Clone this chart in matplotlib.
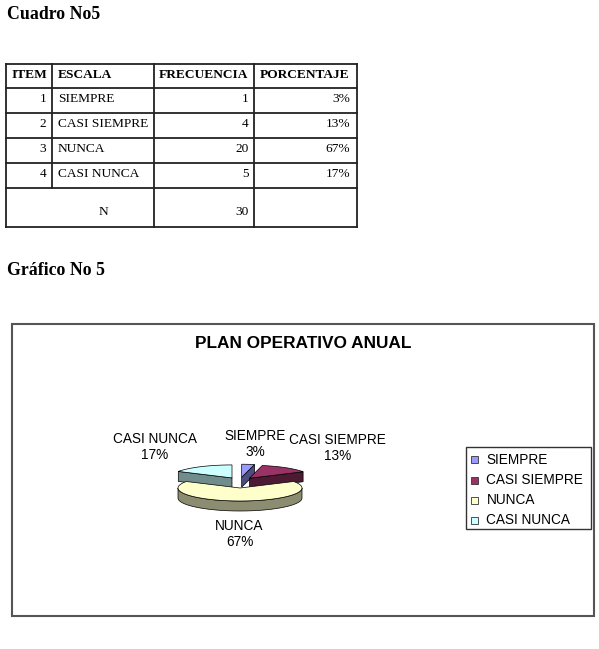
import numpy as np
import matplotlib
matplotlib.use("Agg")
import matplotlib.pyplot as plt
from matplotlib.patches import Polygon, Rectangle

# ---------------- data ----------------
items = ["1", "2", "3", "4"]
escala = ["SIEMPRE", "CASI SIEMPRE", "NUNCA", "CASI NUNCA"]
frecuencia = [1, 4, 20, 5]
porcentaje = ["3%", "13%", "67%", "17%"]
total_n = 30
headers = ["ITEM", "ESCALA", "FRECUENCIA", "PORCENTAJE"]
chart_title = "PLAN OPERATIVO ANUAL"
face_colors = ["#9999FF", "#993366", "#FFFFCC", "#CCFFFF"]
side_colors = ["#4D4D80", "#4D1A33", "#8C8C70", "#708C8C"]

SERIF = "Liberation Serif"
SANS = "Liberation Sans"

fig = plt.figure(figsize=(5.99, 6.49), dpi=100)
ax = fig.add_axes([0, 0, 1, 1])
ax.set_xlim(0, 599)
ax.set_ylim(649, 0)
ax.axis("off")

# ---------------- headings ----------------
ax.text(7, 19, "Cuadro No5", family=SERIF, fontweight="bold", fontsize=12.8,
        ha="left", va="baseline")
ax.text(7, 275, "Gráfico No 5", family=SERIF, fontweight="bold", fontsize=12.8,
        ha="left", va="baseline")

# ---------------- table ----------------
col_x = [6, 52, 154, 254, 357]
row_y = [64, 88.3, 113.3, 137.7, 162.7, 187.7, 227.3]
lc = "#222222"
lw = 1.3
for y in row_y:
    ax.plot([col_x[0], col_x[-1]], [y, y], color=lc, lw=lw, solid_capstyle="projecting")
for j, x in enumerate(col_x):
    if j == 1:
        ax.plot([x, x], [row_y[0], row_y[-2]], color=lc, lw=lw)
    else:
        ax.plot([x, x], [row_y[0], row_y[-1]], color=lc, lw=lw)

fs_t = 9.6
ax.text(12, 78.3, headers[0], family=SERIF, fontweight="bold", fontsize=fs_t, va="baseline")
ax.text(57.7, 78.3, headers[1], family=SERIF, fontweight="bold", fontsize=fs_t, va="baseline")
ax.text(159, 78.3, headers[2], family=SERIF, fontweight="bold", fontsize=fs_t, va="baseline")
ax.text(260, 78.3, headers[3], family=SERIF, fontweight="bold", fontsize=fs_t, va="baseline")
for i in range(4):
    yb = row_y[i + 1] + 14
    ax.text(46.5, yb, items[i], family=SERIF, fontsize=fs_t, ha="right", va="baseline")
    ax.text(57.7, yb, escala[i], family=SERIF, fontsize=fs_t, ha="left", va="baseline")
    ax.text(248.5, yb, str(frecuencia[i]), family=SERIF, fontsize=fs_t, ha="right", va="baseline")
    ax.text(350.5, yb, porcentaje[i], family=SERIF, fontsize=fs_t, ha="right", va="baseline")
ax.text(103.3, 215, "N", family=SERIF, fontsize=fs_t, ha="center", va="baseline")
ax.text(248.5, 215, str(total_n), family=SERIF, fontsize=fs_t, ha="right", va="baseline")

# ---------------- chart frame ----------------
ax.add_patch(Rectangle((12, 324), 594 - 12, 616 - 324, fill=False, ec="#555555", lw=1.5))
ax.text(303, 344, chart_title, family=SANS, fontweight="bold", fontsize=12.4,
        ha="center", va="center")

# ---------------- 3D pie ----------------
cx, cy = 240, 482.6
rx, ry = 62, 13
depth = 10
ex, ey = 16, 5.4   # explosion offsets (horizontal / vertical projection)

vals = np.array(frecuencia, dtype=float)
fr = vals / vals.sum()
bounds = np.concatenate([[0], np.cumsum(fr) * 360])


def pt(theta, ox, oy, h=0.0):
    t = np.radians(theta)
    return (cx + ox + rx * np.sin(t), cy + oy - ry * np.cos(t) + h)


def arc(a0, a1, ox, oy, h=0.0):
    n = max(int(abs(a1 - a0) / 2) + 2, 3)
    th = np.linspace(a0, a1, n)
    return [pt(t, ox, oy, h) for t in th]


slices = []
for i in range(len(vals)):
    a0, a1 = bounds[i], bounds[i + 1]
    mid = np.radians((a0 + a1) / 2)
    ox = ex * np.sin(mid)
    oy = -ey * np.cos(mid)
    slices.append((i, a0, a1, ox, oy))

order = sorted(slices, key=lambda s: s[4])
z = 5
for (i, a0, a1, ox, oy) in order:
    ec = "black"
    elw = 0.5
    c = (cx + ox, cy + oy)
    cb = (cx + ox, cy + oy + depth)
    lo, hi = max(a0, 90), min(a1, 270)
    if hi > lo:
        top = arc(lo, hi, ox, oy)
        bot = arc(hi, lo, ox, oy, depth)
        ax.add_patch(Polygon(top + bot, closed=True, fc=side_colors[i], ec=ec, lw=elw, zorder=z))
    if np.cos(np.radians(a0 - 90)) < 0:
        p = pt(a0, ox, oy)
        pb = pt(a0, ox, oy, depth)
        ax.add_patch(Polygon([c, p, pb, cb], closed=True, fc=side_colors[i], ec=ec, lw=elw, zorder=z))
    if np.cos(np.radians(a1 + 90)) < 0:
        p = pt(a1, ox, oy)
        pb = pt(a1, ox, oy, depth)
        ax.add_patch(Polygon([c, p, pb, cb], closed=True, fc=side_colors[i], ec=ec, lw=elw, zorder=z))
    ax.add_patch(Polygon([c] + arc(a0, a1, ox, oy), closed=True, fc=face_colors[i],
                         ec=ec, lw=elw, zorder=z + 1))
    z += 2

# data labels
lab_pos = [(255, 444), (337.5, 448), (239.5, 534), (155, 447)]
for i in range(len(vals)):
    ax.text(lab_pos[i][0], lab_pos[i][1], f"{escala[i]}\n{porcentaje[i]}", family=SANS,
            fontsize=9.8, ha="center", va="center", linespacing=1.15, zorder=20)

# legend
ax.add_patch(Rectangle((466, 447), 590.5 - 466, 529 - 447, fill=False, ec="#333333", lw=1.0, zorder=20))
leg_y = [459.5, 480.5, 500.5, 520.5]
for i in range(len(vals)):
    ax.add_patch(Rectangle((471, leg_y[i] - 3.5), 7, 7, fc=face_colors[i], ec="#333333", lw=0.6, zorder=21))
    ax.text(486.5, leg_y[i], escala[i], family=SANS, fontsize=9.8, ha="left", va="center", zorder=21)

fig.savefig("out.png", dpi=100)
